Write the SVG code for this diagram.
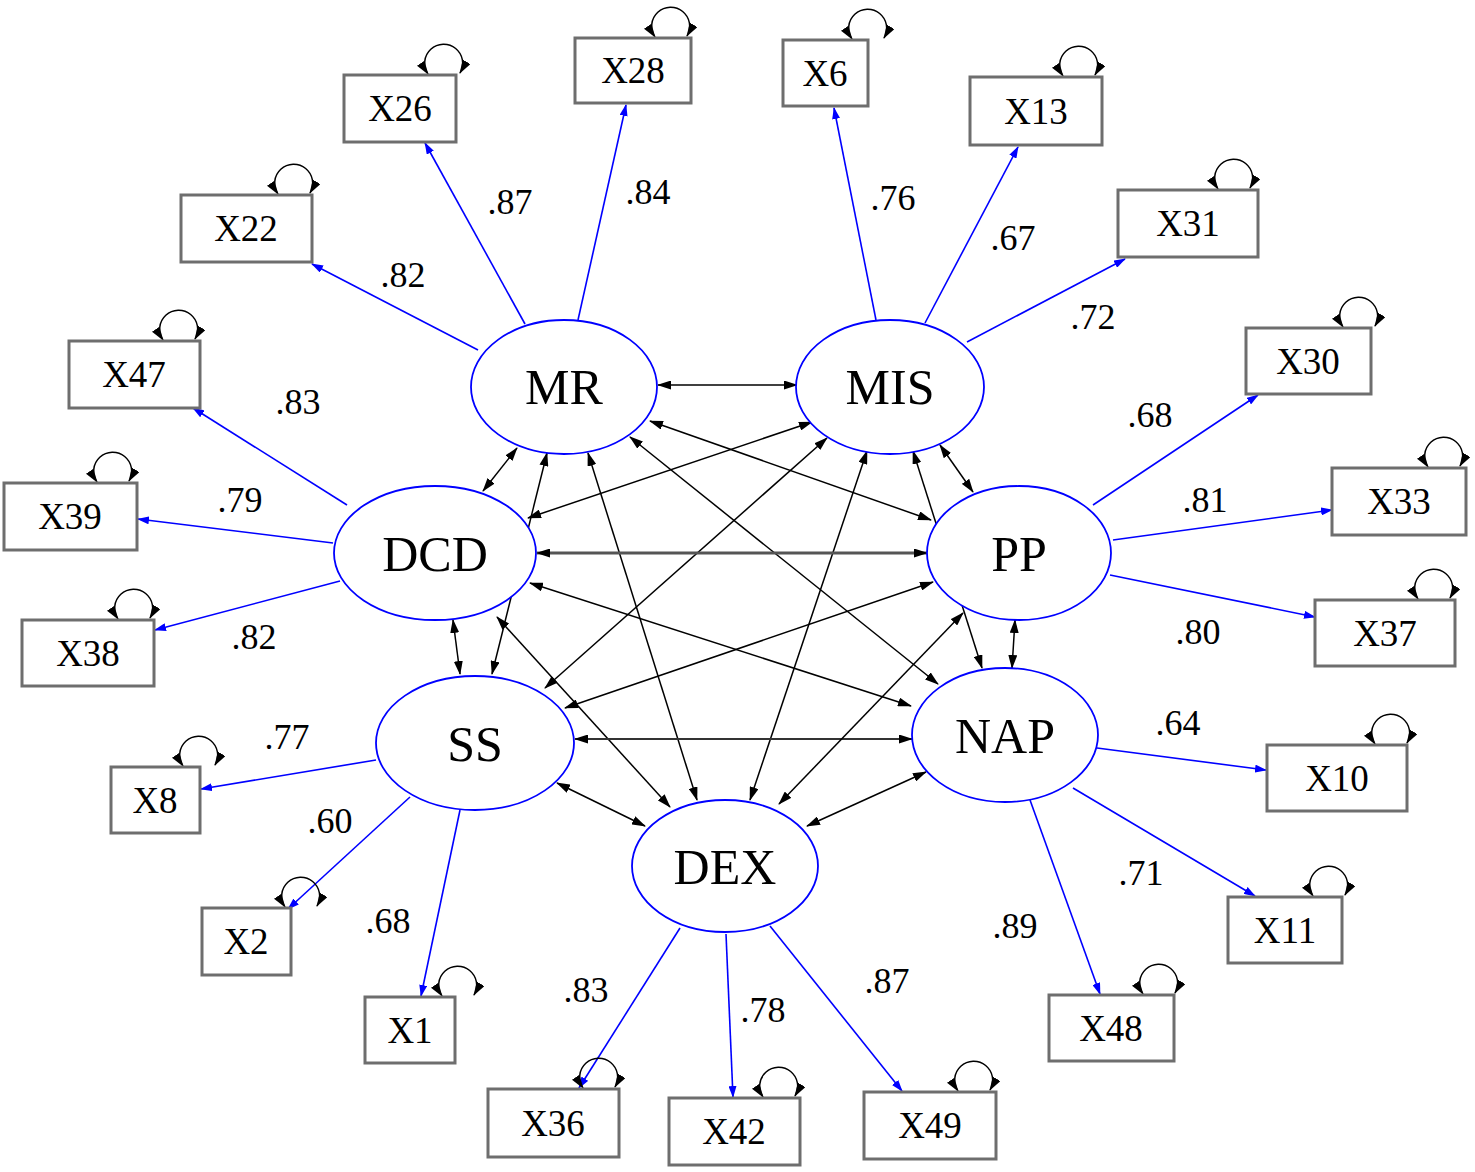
<svg xmlns="http://www.w3.org/2000/svg" width="1475" height="1172" viewBox="0 0 1475 1172">
<style>
.lat ellipse{fill:#fff;stroke:#0000ff;stroke-width:1.8}
.lat text{font-family:"Liberation Serif","Times New Roman",serif;font-size:50px;fill:#000;text-anchor:middle}
.obs rect{fill:#fff;stroke:#6e6e6e;stroke-width:3}
.obs text{font-family:"Liberation Serif","Times New Roman",serif;font-size:37px;fill:#000;text-anchor:middle}
.loop{fill:none;stroke:#000;stroke-width:1.5;marker-start:url(#ak);marker-end:url(#ak)}
.cov{fill:none;stroke:#000;stroke-width:1.5;marker-start:url(#ak);marker-end:url(#ak)}
.ld{fill:none;stroke:#0000ff;stroke-width:1.6;marker-end:url(#ab)}
.lbl{font-family:"Liberation Serif","Times New Roman",serif;font-size:36px;fill:#000;text-anchor:middle}
</style>
<defs>
<marker id="ak" markerUnits="userSpaceOnUse" markerWidth="14" markerHeight="9" refX="13" refY="4.5" orient="auto-start-reverse"><path d="M0,0 L14,4.5 L0,9 z" fill="#000"/></marker>
<marker id="ab" markerUnits="userSpaceOnUse" markerWidth="12" markerHeight="8" refX="11" refY="4" orient="auto"><path d="M0,0 L12,4 L0,8 z" fill="#0000ff"/></marker>
</defs>
<rect width="1475" height="1172" fill="#fff"/>

<g id="connectors">
<!-- covariances -->
<line class="cov" x1="658" y1="385" x2="797" y2="385"/>
<line class="cov" x1="517" y1="448" x2="483" y2="491"/>
<line class="cov" x1="547" y1="453" x2="492" y2="674"/>
<line class="cov" x1="588" y1="453" x2="697" y2="800"/>
<line class="cov" x1="630" y1="437" x2="938" y2="684"/>
<line class="cov" x1="650" y1="421" x2="931" y2="520"/>
<line class="cov" x1="812" y1="422" x2="528" y2="518"/>
<line class="cov" x1="827" y1="438" x2="545" y2="688"/>
<line class="cov" x1="867" y1="451" x2="750" y2="800"/>
<line class="cov" x1="913" y1="451" x2="982" y2="668"/>
<line class="cov" x1="940" y1="445" x2="973" y2="492"/>
<line class="cov" x1="537" y1="553" x2="927" y2="553" style="stroke:#555;stroke-width:3"/>
<line class="cov" x1="453" y1="620" x2="460" y2="674"/>
<line class="cov" x1="497" y1="617" x2="670" y2="807"/>
<line class="cov" x1="530" y1="583" x2="911" y2="706"/>
<line class="cov" x1="565" y1="708" x2="933" y2="582"/>
<line class="cov" x1="575" y1="739" x2="912" y2="739" style="stroke:#333;stroke-width:2"/>
<line class="cov" x1="557" y1="783" x2="645" y2="826"/>
<line class="cov" x1="1015" y1="620" x2="1012" y2="668"/>
<line class="cov" x1="963" y1="613" x2="779" y2="804"/>
<line class="cov" x1="926" y1="772" x2="807" y2="826"/>
<!-- loadings -->
<line class="ld" x1="478" y1="350" x2="312" y2="264"/>
<line class="ld" x1="525" y1="324" x2="425" y2="143"/>
<line class="ld" x1="578" y1="320" x2="626" y2="105"/>
<line class="ld" x1="876" y1="320" x2="834" y2="108"/>
<line class="ld" x1="925" y1="323" x2="1018" y2="147"/>
<line class="ld" x1="967" y1="342" x2="1125" y2="259"/>
<line class="ld" x1="1093" y1="505" x2="1258" y2="395"/>
<line class="ld" x1="1113" y1="540" x2="1332" y2="510"/>
<line class="ld" x1="1110" y1="575" x2="1315" y2="617"/>
<line class="ld" x1="1097" y1="748" x2="1266" y2="770"/>
<line class="ld" x1="1073" y1="788" x2="1255" y2="896"/>
<line class="ld" x1="1030" y1="800" x2="1100" y2="994"/>
<line class="ld" x1="680" y1="928" x2="579" y2="1088"/>
<line class="ld" x1="726" y1="934" x2="733" y2="1097"/>
<line class="ld" x1="770" y1="926" x2="902" y2="1091"/>
<line class="ld" x1="376" y1="760" x2="201" y2="789"/>
<line class="ld" x1="410" y1="797" x2="288" y2="909"/>
<line class="ld" x1="460" y1="810" x2="421" y2="996"/>
<line class="ld" x1="347" y1="505" x2="193" y2="408"/>
<line class="ld" x1="333" y1="543" x2="138" y2="519"/>
<line class="ld" x1="340" y1="581" x2="155" y2="630"/>
<!-- self loops -->
<path class="loop" d="M428,74 A19,19 0 1 1 460,73"/>
<path class="loop" d="M655,37 A19,19 0 1 1 687,36"/>
<path class="loop" d="M852,39 A19,19 0 1 1 884,38"/>
<path class="loop" d="M1063,76 A19,19 0 1 1 1095,75"/>
<path class="loop" d="M278,194 A19,19 0 1 1 310,193"/>
<path class="loop" d="M1218,189 A19,19 0 1 1 1250,188"/>
<path class="loop" d="M163,340 A19,19 0 1 1 195,339"/>
<path class="loop" d="M1343,327 A19,19 0 1 1 1375,326"/>
<path class="loop" d="M97,482 A19,19 0 1 1 129,481"/>
<path class="loop" d="M1428,467 A19,19 0 1 1 1460,466"/>
<path class="loop" d="M118,619 A19,19 0 1 1 150,618"/>
<path class="loop" d="M1418,599 A19,19 0 1 1 1450,598"/>
<path class="loop" d="M183,766 A19,19 0 1 1 215,765"/>
<path class="loop" d="M1375,744 A19,19 0 1 1 1407,743"/>
<path class="loop" d="M285,907 A19,19 0 1 1 317,906"/>
<path class="loop" d="M1313,896 A19,19 0 1 1 1345,895"/>
<path class="loop" d="M442,996 A19,19 0 1 1 474,995"/>
<path class="loop" d="M1143,994 A19,19 0 1 1 1175,993"/>
<path class="loop" d="M583,1088 A19,19 0 1 1 615,1087"/>
<path class="loop" d="M763,1097 A19,19 0 1 1 795,1096"/>
<path class="loop" d="M958,1091 A19,19 0 1 1 990,1090"/>
</g>

<g id="labels">
<text class="lbl" x="403" y="287">.82</text>
<text class="lbl" x="510" y="214">.87</text>
<text class="lbl" x="648" y="204">.84</text>
<text class="lbl" x="893" y="210">.76</text>
<text class="lbl" x="1013" y="250">.67</text>
<text class="lbl" x="1093" y="329">.72</text>
<text class="lbl" x="1150" y="427">.68</text>
<text class="lbl" x="1205" y="512">.81</text>
<text class="lbl" x="1198" y="644">.80</text>
<text class="lbl" x="1178" y="735">.64</text>
<text class="lbl" x="1141" y="885">.71</text>
<text class="lbl" x="1015" y="938">.89</text>
<text class="lbl" x="586" y="1002">.83</text>
<text class="lbl" x="763" y="1022">.78</text>
<text class="lbl" x="887" y="993">.87</text>
<text class="lbl" x="287" y="749">.77</text>
<text class="lbl" x="330" y="833">.60</text>
<text class="lbl" x="388" y="933">.68</text>
<text class="lbl" x="298" y="414">.83</text>
<text class="lbl" x="240" y="512">.79</text>
<text class="lbl" x="254" y="649">.82</text>
</g>

<g id="MR" class="lat"><ellipse cx="564" cy="387" rx="93" ry="67"/><text x="564" y="404">MR</text></g>
<g id="MIS" class="lat"><ellipse cx="890" cy="387" rx="94" ry="67"/><text x="890" y="404">MIS</text></g>
<g id="DCD" class="lat"><ellipse cx="435" cy="553" rx="101" ry="67"/><text x="435" y="571">DCD</text></g>
<g id="PP" class="lat"><ellipse cx="1019" cy="553" rx="92" ry="67"/><text x="1019" y="571">PP</text></g>
<g id="SS" class="lat"><ellipse cx="475" cy="743" rx="99" ry="67"/><text x="475" y="761">SS</text></g>
<g id="NAP" class="lat"><ellipse cx="1005" cy="735" rx="93" ry="67"/><text x="1005" y="753">NAP</text></g>
<g id="DEX" class="lat"><ellipse cx="725" cy="866" rx="93" ry="66"/><text x="725" y="884">DEX</text></g>

<g id="X26" class="obs"><rect x="344" y="75" width="112" height="67"/><text x="400" y="121">X26</text></g>
<g id="X28" class="obs"><rect x="575" y="38" width="116" height="65"/><text x="633" y="83">X28</text></g>
<g id="X6" class="obs"><rect x="783" y="40" width="85" height="66"/><text x="825" y="86">X6</text></g>
<g id="X13" class="obs"><rect x="970" y="77" width="132" height="68"/><text x="1036" y="124">X13</text></g>
<g id="X22" class="obs"><rect x="181" y="195" width="131" height="67"/><text x="246" y="241">X22</text></g>
<g id="X31" class="obs"><rect x="1118" y="190" width="140" height="67"/><text x="1188" y="236">X31</text></g>
<g id="X47" class="obs"><rect x="69" y="341" width="131" height="67"/><text x="134" y="387">X47</text></g>
<g id="X30" class="obs"><rect x="1246" y="328" width="125" height="66"/><text x="1308" y="374">X30</text></g>
<g id="X39" class="obs"><rect x="4" y="483" width="133" height="67"/><text x="70" y="529">X39</text></g>
<g id="X33" class="obs"><rect x="1332" y="468" width="134" height="67"/><text x="1399" y="514">X33</text></g>
<g id="X38" class="obs"><rect x="22" y="620" width="132" height="66"/><text x="88" y="666">X38</text></g>
<g id="X37" class="obs"><rect x="1315" y="600" width="140" height="66"/><text x="1385" y="646">X37</text></g>
<g id="X8" class="obs"><rect x="111" y="767" width="89" height="66"/><text x="155" y="813">X8</text></g>
<g id="X10" class="obs"><rect x="1267" y="745" width="140" height="66"/><text x="1337" y="791">X10</text></g>
<g id="X2" class="obs"><rect x="202" y="908" width="89" height="67"/><text x="246" y="954">X2</text></g>
<g id="X11" class="obs"><rect x="1228" y="897" width="114" height="66"/><text x="1285" y="943">X11</text></g>
<g id="X1" class="obs"><rect x="365" y="997" width="90" height="66"/><text x="410" y="1043">X1</text></g>
<g id="X48" class="obs"><rect x="1049" y="995" width="125" height="66"/><text x="1111" y="1041">X48</text></g>
<g id="X36" class="obs"><rect x="488" y="1089" width="131" height="68"/><text x="553" y="1136">X36</text></g>
<g id="X42" class="obs"><rect x="669" y="1098" width="131" height="67"/><text x="734" y="1144">X42</text></g>
<g id="X49" class="obs"><rect x="864" y="1092" width="132" height="67"/><text x="930" y="1138">X49</text></g>
</svg>
